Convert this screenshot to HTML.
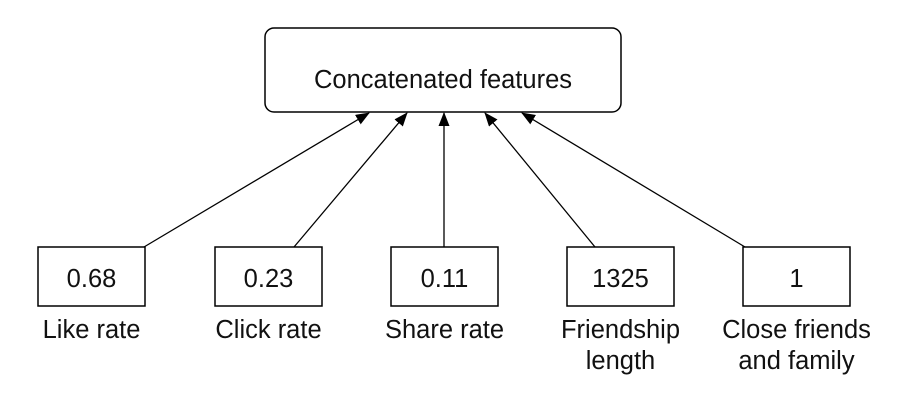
<!DOCTYPE html>
<html><head><meta charset="utf-8"><style>
html,body{margin:0;padding:0;background:#fff;}
svg text{font-family:"Liberation Sans",Arial,sans-serif;fill:#111;}
</style></head><body>
<svg width="900" height="406" viewBox="0 0 900 406" xmlns="http://www.w3.org/2000/svg">
<defs><marker id="ah" markerWidth="14" markerHeight="12" refX="13" refY="5.5" orient="auto" markerUnits="userSpaceOnUse"><path d="M0,0 L14,5.5 L0,11 z" fill="#000"/></marker></defs>
<g>
<rect x="265" y="28" width="356" height="84" rx="9" fill="#fff" stroke="#000" stroke-width="1.5"/>
<text x="443" y="88" font-size="25.5" text-anchor="middle">Concatenated features</text>
</g>
<g id="items"></g>
</svg>
<script>
const values=["0.68","0.23","0.11","1325","1"];
const labels=[["Like rate"],["Click rate"],["Share rate"],["Friendship","length"],["Close friends","and family"]];
const boxX=[38,215,391,567,743];
const startX=[144,294,444,595,745];
const endX=[369,407,444,485,522];
const g=document.getElementById('items');
const ns="http://www.w3.org/2000/svg";
for(let i=0;i<values.length;i++){
  const l=document.createElementNS(ns,'line');
  
  
  l.setAttribute('x1',startX[i]);l.setAttribute('y1',247);
  l.setAttribute('x2',endX[i]);l.setAttribute('y2',113);
  l.setAttribute('stroke','#000');l.setAttribute('stroke-width','1.3');
  l.setAttribute('marker-end','url(#ah)');
  g.appendChild(l);
  const r=document.createElementNS(ns,'rect');
  
  
  r.setAttribute('x',boxX[i]);r.setAttribute('y',247);
  r.setAttribute('width',107);r.setAttribute('height',59);
  r.setAttribute('fill','#fff');r.setAttribute('stroke','#000');r.setAttribute('stroke-width','1.5');
  g.appendChild(r);
  const cx=boxX[i]+53.5;
  const t=document.createElementNS(ns,'text');
  
  
  t.setAttribute('x',cx);t.setAttribute('y',287);t.setAttribute('font-size','25.5');t.setAttribute('text-anchor','middle');
  t.textContent=values[i];g.appendChild(t);
  labels[i].forEach((s,j)=>{
    const lt=document.createElementNS(ns,'text');
    
    
    lt.setAttribute('x',cx);lt.setAttribute('y',338+j*31);lt.setAttribute('font-size','25.5');lt.setAttribute('text-anchor','middle');
    lt.textContent=s;g.appendChild(lt);
  });
}
</script>
</body></html>
